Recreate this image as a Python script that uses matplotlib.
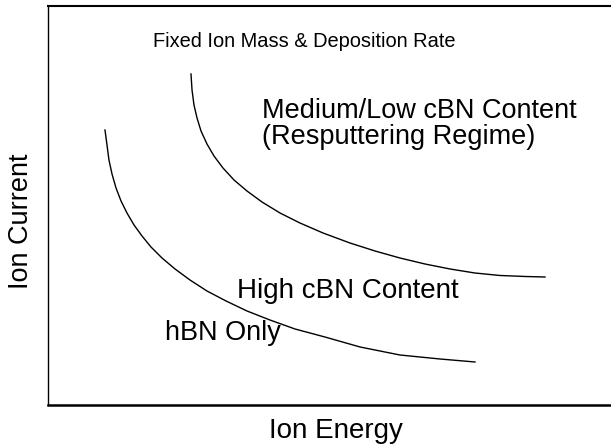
import matplotlib
matplotlib.use("Agg")
import matplotlib.pyplot as plt

plt.rcParams['font.family'] = ['Liberation Sans', 'DejaVu Sans']

# boundary between hBN only and high cBN content (arbitrary units)
hbn_energy = [10.12, 10.48, 10.83, 11.37, 12.08, 12.97, 14.03, 15.28, 16.70, 18.29, 20.25, 22.56,
              25.22, 28.24, 31.62, 35.35, 39.43, 43.87, 49.20, 55.42, 62.52, 69.63, 75.84]
hbn_current = [68.92, 65.16, 61.40, 57.89, 54.39, 51.13, 48.12, 45.11, 42.36, 39.60, 36.84, 34.09,
               31.33, 28.57, 26.07, 23.56, 21.30, 19.05, 17.04, 14.54, 12.53, 11.53, 10.78]

# boundary between high cBN content and resputtering regime
cbn_energy = [25.40, 25.58, 25.93, 26.47, 27.18, 28.24, 29.48, 31.08, 33.04, 35.35, 38.01, 41.21,
              44.76, 48.85, 53.64, 58.08, 62.52, 66.96, 71.40, 75.84, 80.28, 84.72, 88.28]
cbn_current = [82.96, 78.95, 75.19, 71.93, 68.67, 65.41, 62.41, 59.40, 56.39, 53.63, 50.88, 48.12,
               45.61, 43.11, 40.60, 38.60, 36.84, 35.34, 34.09, 33.08, 32.46, 32.21, 32.08]

fig = plt.figure(figsize=(6.11, 4.46), dpi=100)
ax = fig.add_axes([48 / 611, 41 / 446, 563 / 611, 399 / 446])

ax.plot(hbn_energy, hbn_current, color='black', lw=1.0, solid_joinstyle='round')
ax.plot(cbn_energy, cbn_current, color='black', lw=1.0, solid_joinstyle='round')

ax.set_xlim(0, 100)
ax.set_ylim(0, 100)
ax.set_xticks([])
ax.set_yticks([])
ax.spines['right'].set_visible(False)
ax.spines['left'].set_linewidth(1.0)
ax.spines['top'].set_linewidth(1.5)
ax.spines['bottom'].set_linewidth(1.8)

ax.text(18.6, 89.6, "Fixed Ion Mass & Deposition Rate", fontsize=14.4, va='baseline')
ax.text(38.0, 72.0, "Medium/Low cBN Content", fontsize=19.5, va='baseline')
ax.text(38.0, 65.5, "(Resputtering Regime)", fontsize=19.5, va='baseline')
ax.text(33.6, 26.8, "High cBN Content", fontsize=20, va='baseline')
ax.text(20.8, 16.3, "hBN Only", fontsize=19.5, va='baseline')

ax.set_xlabel("Ion Energy", fontsize=20)
ax.set_ylabel("Ion Current", fontsize=19.5)
ax.xaxis.set_label_coords(0.512, -0.032)
ax.yaxis.set_label_coords(-0.025, 0.46)

fig.savefig("out.png", dpi=100)
